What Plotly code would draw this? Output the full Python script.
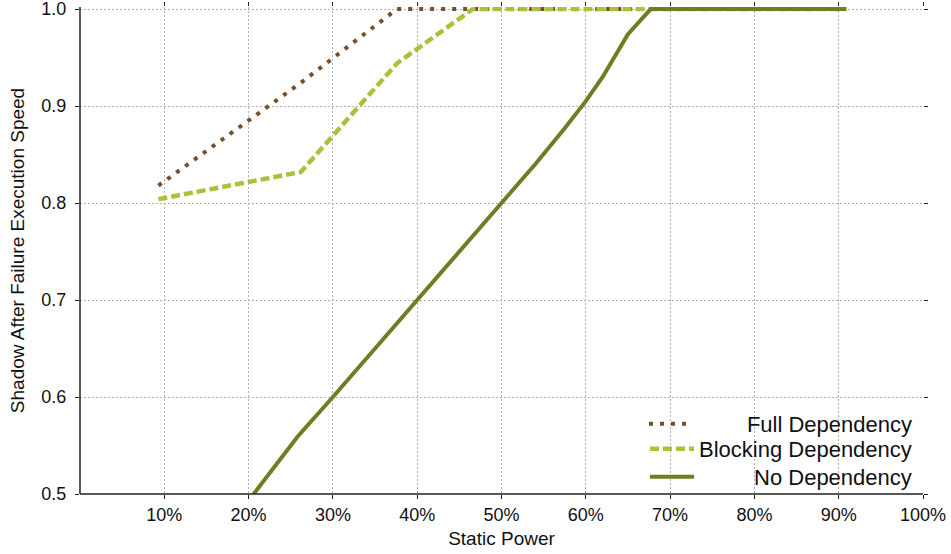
import plotly.graph_objects as go

# Static power (%) and the resulting shadow execution speed for each dependency mode
full_x = [9.3, 26.2, 37.6, 90.9]
full_y = [0.818, 0.924, 1.0, 1.0]

blocking_x = [9.3, 26.2, 37.6, 46.6, 90.9]
blocking_y = [0.804, 0.832, 0.944, 1.0, 1.0]

none_x = [20.6, 25.8, 30, 35, 40, 45, 50, 54, 57.5, 60, 62, 65, 67.7, 90.9]
none_y = [0.50, 0.559, 0.600, 0.650, 0.700, 0.749, 0.799, 0.840, 0.877, 0.905, 0.930, 0.974, 1.0, 1.0]

x_ticks = [10, 20, 30, 40, 50, 60, 70, 80, 90, 100]
x_tick_labels = [f"{v}%" for v in x_ticks]
y_ticks = [0.5, 0.6, 0.7, 0.8, 0.9, 1.0]

NB = "\u00a0"
FONT = "Liberation Sans, Arial, Helvetica, sans-serif"

fig = go.Figure()
fig.add_trace(go.Scatter(
    x=full_x, y=full_y, mode="lines", name=NB * 8 + "Full Dependency", legend="legend",
    line=dict(color="#77502A", width=4, dash="4px,7px"),
))
fig.add_trace(go.Scatter(
    x=blocking_x, y=blocking_y, mode="lines", name="Blocking Dependency", legend="legend2",
    line=dict(color="#A8C33A", width=4.5, dash="9px,4px"),
))
fig.add_trace(go.Scatter(
    x=none_x, y=none_y, mode="lines", name=NB * 9 + "No Dependency", legend="legend3",
    line=dict(color="#6B7F24", width=4),
))

axis_common = dict(
    showline=False, zeroline=False, mirror="ticks",
    ticks="outside", ticklen=4, tickwidth=1, tickcolor="#222",
    showgrid=True, gridcolor="#b0b0b0", gridwidth=1, griddash="2px,2px",
    tickfont=dict(size=18, color="#111", family=FONT),
    ticklabeloverflow="allow", automargin=False,
)

fig.update_xaxes(
    range=[0, 100], tickvals=x_ticks, ticktext=x_tick_labels,
    title=dict(text="Static Power", font=dict(size=19, color="#111", family=FONT), standoff=8),
    **axis_common,
)
fig.update_yaxes(
    range=[0.5, 1.0021], tickvals=y_ticks, ticktext=[f"{v:.1f}" for v in y_ticks],
    ticklabelstandoff=5,
    title=dict(text="Shadow After Failure Execution Speed", font=dict(size=19, color="#111", family=FONT), standoff=11),
    **axis_common,
)

# left and bottom axis lines
fig.add_shape(type="line", xref="paper", yref="paper", x0=0, x1=0, y0=0, y1=1,
              line=dict(color="#222", width=1.5))
fig.add_shape(type="line", xref="paper", yref="paper", x0=0, x1=1, y0=0, y1=0,
              line=dict(color="#222", width=1.5))

legend_common = dict(
    x=0.9929, xanchor="right", yanchor="middle",
    bgcolor="rgba(0,0,0,0)", borderwidth=0,
    font=dict(size=22, color="#111", family=FONT),
    itemwidth=44,
)

fig.update_layout(
    width=951, height=554,
    margin=dict(l=80, r=28, t=7, b=60),
    paper_bgcolor="white", plot_bgcolor="white",
    font=dict(family=FONT, color="#111"),
    showlegend=True,
    legend=dict(y=0.1437, **legend_common),
    legend2=dict(y=0.0924, **legend_common),
    legend3=dict(y=0.0350, **legend_common),
)

fig.write_html("out.html")
